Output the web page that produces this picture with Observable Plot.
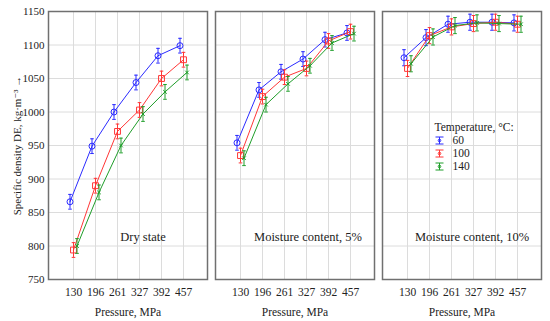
<!DOCTYPE html>
<html>
<head>
<meta charset="utf-8">
<script src="https://cdn.jsdelivr.net/npm/d3@7"></script>
<script src="https://cdn.jsdelivr.net/npm/@observablehq/plot@0.6"></script>
<style>
  html, body { margin: 0; padding: 0; background: white; }
  #chart { width: 550px; height: 321px; }
  #chart svg, #chart svg text { font-family: "Liberation Serif", "DejaVu Serif", serif !important; }
</style>
</head>
<body>
<div id="chart"></div>
<script>
const pressures = ["130", "196", "261", "327", "392", "457"];
const states = ["Dry state", "Moisture content, 5%", "Moisture content, 10%"];
const temps = ["60", "100", "140"];
const yTicks = [750, 800, 850, 900, 950, 1000, 1050, 1100, 1150];

const dry60  = [866, 949, 1000, 1044, 1084, 1099];
const dry100 = [794, 890, 971, 1003, 1050, 1078];
const dry140 = [800, 880, 950, 997, 1030, 1059];
const m5_60  = [954, 1033, 1060, 1079, 1108, 1118];
const m5_100 = [935, 1023, 1052, 1065, 1106, 1120];
const m5_140 = [931, 1011, 1042, 1069, 1103, 1117];
const m10_60  = [1081, 1111, 1131, 1134, 1134, 1133];
const m10_100 = [1065, 1114, 1127, 1132, 1134, 1131];
const m10_140 = [1072, 1112, 1129, 1133, 1132, 1131];
const halfError = [11, 11, 12];

const series = [
  [dry60, dry100, dry140],
  [m5_60, m5_100, m5_140],
  [m10_60, m10_100, m10_140]
];

const rows = [];
states.forEach((s, si) => {
  temps.forEach((t, ti) => {
    series[si][ti].forEach((v, pi) => {
      rows.push({state: s, temp: t, pressure: pressures[pi], value: v,
                 lo: v - halfError[si], hi: v + halfError[si]});
    });
  });
});

const colors = {"60": "#2b2bff", "100": "#ff3636", "140": "#1f9e2a"};
const offsets = {"60": -3.5, "100": 0, "140": 3.5};
const symbols = {"60": "circle", "100": "square", "140": "times"};
const sizes = {"60": 3, "100": 3.3, "140": 1.8};

// horizontal cap for error bars
const capGlyph = {
  draw(context) {
    context.moveTo(-1.8, 0); context.lineTo(1.8, 0);
  }
};
// custom legend glyph: a tiny error bar with a centre dot
const errGlyph = {
  draw(context) {
    const w = 4, h = 3.5;
    context.moveTo(-w, -h); context.lineTo(w, -h);
    context.moveTo(-w, h); context.lineTo(w, h);
    context.moveTo(0, -h); context.lineTo(0, h);
    context.moveTo(1.3, 0); context.arc(0, 0, 1.3, 0, 2 * Math.PI);
  }
};

const seriesMarks = temps.flatMap(t => {
  const d = rows.filter(r => r.temp === t);
  const c = colors[t], dx = offsets[t];
  return [
    Plot.line(d, {fx: "state", x: "pressure", y: "value", stroke: c, strokeWidth: 1, dx}),
    Plot.ruleX(d, {fx: "state", x: "pressure", y1: "lo", y2: "hi", stroke: c, strokeWidth: 1, dx}),
    Plot.dot(d, {fx: "state", x: "pressure", y: "lo", stroke: c, fill: "none", strokeWidth: 1, symbol: capGlyph, r: 2, dx}),
    Plot.dot(d, {fx: "state", x: "pressure", y: "hi", stroke: c, fill: "none", strokeWidth: 1, symbol: capGlyph, r: 2, dx}),
    Plot.dot(d, {fx: "state", x: "pressure", y: "value", stroke: c, fill: "none", strokeWidth: 1,
                 symbol: () => symbols[t], r: sizes[t], dx})
  ];
});

const lastState = [{state: states[2]}];
const legendMarks = [
  Plot.text(lastState, {fx: "state", text: () => "Temperature, °C:", frameAnchor: "top-left",
                        dx: 52, dy: 111, textAnchor: "start", fontSize: 11.5}),
  ...temps.map((t, i) => Plot.text(lastState, {fx: "state", text: () => t, frameAnchor: "top-left",
                        dx: 70, dy: 124.5 + i * 13, textAnchor: "start", fontSize: 11.5})),
  ...temps.map((t, i) => Plot.dot(lastState, {fx: "state", frameAnchor: "top-left",
                        dx: 57, dy: 129 + i * 13, symbol: errGlyph, r: 3, stroke: colors[t],
                        fill: "none", strokeWidth: 1}))
];

const panelLabelOffsets = [15, 13, 10];
const panelLabelMarks = states.map((s, i) =>
  Plot.text([{state: s}], {fx: "state", text: "state", frameAnchor: "bottom", dx: panelLabelOffsets[i],
                          dy: -38.5, fontSize: 12.5})
);

const chart = Plot.plot({
  width: 550,
  height: 321,
  marginLeft: 47,
  marginRight: 9,
  marginTop: 11,
  marginBottom: 42,
  style: {fontSize: "11px", background: "white", color: "#222"},
  fx: {domain: states, axis: null, paddingInner: 0.05, paddingOuter: 0, label: null},
  x: {domain: pressures, type: "point", padding: 1, label: null},
  y: {domain: [750, 1150], label: null},
  marks: [
    Plot.gridX(pressures, {stroke: "#dcdcdc", strokeOpacity: 1, strokeWidth: 1}),
    Plot.gridY(yTicks, {stroke: "#dcdcdc", strokeOpacity: 1, strokeWidth: 1}),
    Plot.axisX({tickSize: 0, tickPadding: 8, fontSize: 11.5, label: null}),
    Plot.axisY({ticks: yTicks, tickSize: 0, tickPadding: 4, fontSize: 11, tickFormat: d => String(d),
                label: "Specific density DE, kg·m⁻³", labelAnchor: "center", labelOffset: 35}),
    ...seriesMarks,
    ...panelLabelMarks,
    Plot.text(states.map(s => ({state: s})), {fx: "state", text: () => "Pressure, MPa", frameAnchor: "bottom",
                          dy: 36, fontSize: 11.5}),
    ...legendMarks,
    Plot.frame({stroke: "#707070", strokeWidth: 1.5})
  ]
});

document.getElementById("chart").appendChild(chart);
</script>
</body>
</html>
